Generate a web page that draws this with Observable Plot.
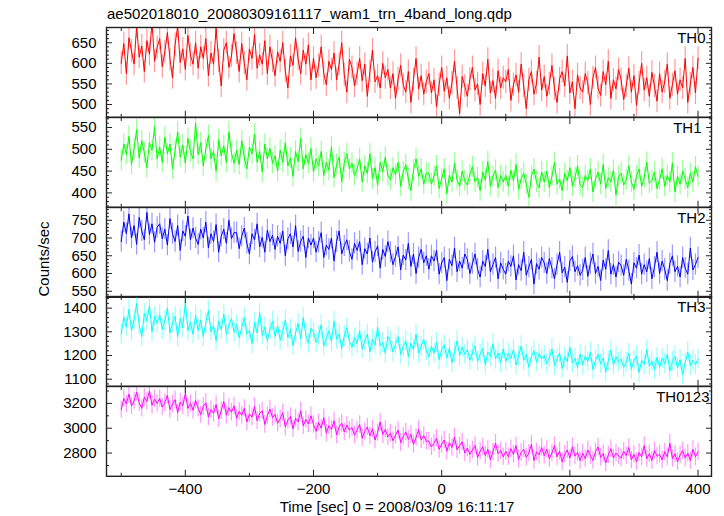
<!DOCTYPE html>
<html><head><meta charset="utf-8">
<script src="https://cdn.jsdelivr.net/npm/d3@7"></script>
<script src="https://cdn.jsdelivr.net/npm/@observablehq/plot@0.6"></script>
<style>
body{margin:0;background:#fff;}
#c{position:relative;width:724px;height:516px;overflow:hidden;font-family:"Liberation Sans",Arial,Helvetica,sans-serif;color:#000;}
.lbl{position:absolute;white-space:nowrap;font-size:15px;line-height:18px;}
</style>
</head><body><div id="c"></div>
<script>
// ---- data (count rates, 4-s samples from t = -500 s to +400 s) ----
const tStart = -500, tStep = 4;
const panelNames = ["TH0", "TH1", "TH2", "TH3", "TH0123"];
const th0 = [
600,648,575,662,630,598,690,615,642,580,655,622,700,605,638,
660,592,628,675,610,565,645,690,602,635,585,668,620,598,650,
588,640,612,660,570,625,598,685,606,545,632,650,590,618,672,
625,580,648,600,560,635,612,670,588,620,598,655,575,640,605,
570,628,605,650,582,540,618,595,662,610,575,632,598,645,560,
612,565,595,640,575,548,605,585,625,560,598,650,572,530,610,
590,545,575,612,558,598,520,580,632,555,570,540,600,565,585,
540,575,515,562,595,548,530,580,505,560,612,538,570,525,555,
575,528,560,495,548,590,532,565,515,552,605,540,478,568,545,
520,562,590,535,550,500,575,545,610,528,558,515,582,540,565,
555,585,510,548,572,530,598,545,490,560,580,525,552,615,535,
568,520,550,595,538,505,562,580,545,618,528,555,490,572,540,
530,575,552,500,565,590,540,522,580,548,605,515,560,538,585,
560,512,545,588,530,570,498,552,600,535,565,520,578,545,508,
575,530,555,598,515,548,582,525,560,540,612,505,550,590,528,
612];
const th1 = [
475,512,488,530,465,502,545,480,520,492,458,515,498,552,478,
505,470,528,490,512,455,498,540,482,510,468,525,495,478,560,
488,515,462,500,532,478,495,450,522,485,508,470,540,492,468,
498,465,520,482,455,505,490,535,470,495,448,512,478,502,468,
485,450,498,470,515,462,480,438,495,472,525,455,488,468,502,
448,478,462,495,440,470,452,505,435,465,482,425,470,490,455,
468,440,455,478,425,462,445,490,432,458,418,470,448,482,440,
430,458,442,470,415,448,465,432,405,452,478,438,455,420,445,
445,420,438,462,410,432,455,398,440,425,468,430,415,450,428,
418,442,460,425,435,405,448,430,472,415,438,452,412,440,425,
440,415,452,428,465,408,432,445,420,390,438,455,425,412,448,
425,450,412,438,470,420,432,405,445,428,458,415,435,462,418,
412,440,428,455,402,432,448,420,465,410,435,425,452,395,438,
445,418,430,462,425,408,440,455,415,435,470,422,428,448,410,
430,455,415,440,425,468,402,438,420,450,432,412,445,425,460,
438];
const th2 = [
690,745,712,768,700,735,682,758,720,695,772,710,740,688,730,
740,698,725,680,755,712,690,735,665,720,705,762,695,728,700,
682,725,700,745,672,712,690,738,660,705,725,685,750,698,715,
715,670,705,728,685,655,712,695,740,675,702,660,722,690,708,
668,705,685,720,650,698,712,675,735,662,690,705,645,700,680,
700,660,688,715,645,680,668,700,635,690,720,655,678,695,662,
640,685,665,690,625,670,655,700,632,660,678,615,668,648,690,
660,625,648,675,610,652,638,685,620,655,600,645,668,630,650,
612,650,635,665,598,630,645,580,640,622,672,605,635,615,655,
640,600,628,655,612,590,635,620,668,605,625,645,585,630,612,
598,635,620,650,582,625,608,660,595,618,640,570,628,612,645,
630,600,642,615,585,625,660,602,618,575,635,648,605,622,595,
610,645,592,628,655,600,620,580,638,612,665,598,625,590,632,
622,595,640,608,570,630,615,652,598,625,605,642,585,618,660,
600,635,612,580,628,650,605,620,590,645,615,598,672,610,625,
645];
const th3 = [
1290,1362,1320,1395,1305,1350,1420,1328,1280,1378,1345,1410,1300,1365,1335,
1372,1310,1345,1400,1295,1338,1365,1280,1355,1318,1425,1305,1340,1290,1370,
1305,1350,1280,1338,1390,1300,1325,1262,1345,1310,1375,1290,1330,1355,1298,
1330,1275,1318,1360,1290,1305,1250,1340,1295,1380,1285,1320,1262,1310,1345,
1280,1325,1265,1300,1350,1275,1310,1242,1295,1335,1270,1360,1288,1252,1315,
1300,1255,1285,1330,1240,1275,1305,1258,1345,1268,1290,1230,1282,1318,1260,
1235,1275,1250,1305,1228,1262,1290,1215,1268,1245,1320,1240,1255,1210,1280,
1260,1215,1248,1280,1205,1238,1262,1195,1252,1225,1290,1210,1240,1268,1220,
1195,1238,1210,1255,1182,1225,1245,1190,1230,1170,1215,1262,1200,1235,1205,
1225,1180,1212,1240,1175,1205,1230,1160,1215,1195,1250,1185,1210,1170,1228,
1175,1210,1188,1225,1160,1198,1240,1180,1205,1150,1195,1220,1172,1208,1185,
1200,1165,1190,1228,1158,1185,1210,1145,1195,1175,1235,1168,1188,1150,1205,
1160,1198,1175,1215,1140,1180,1205,1165,1190,1130,1178,1222,1160,1195,1172,
1185,1150,1172,1210,1142,1178,1198,1128,1180,1162,1225,1155,1175,1140,1192,
1150,1188,1165,1205,1135,1175,1195,1148,1182,1120,1170,1215,1158,1180,1162,
1185];
const th0123 = [
3150,3240,3195,3275,3180,3220,3290,3205,3160,3250,3215,3300,3185,3235,3200,
3240,3170,3205,3265,3150,3195,3230,3125,3210,3180,3280,3160,3200,3145,3225,
3160,3110,3175,3205,3090,3150,3120,3190,3075,3140,3215,3105,3165,3130,3180,
3080,3135,3105,3160,3050,3115,3090,3175,3060,3120,3140,3030,3100,3155,3085,
3110,3040,3075,3125,3010,3065,3095,2995,3080,3050,3140,3020,3070,3035,3100,
3030,2975,3045,3000,3085,2960,3020,2990,3060,2945,3010,3040,2970,3025,2985,
3005,2945,2985,3030,2920,2975,3010,2940,2995,2905,2965,3050,2950,2990,2930,
2960,2900,2945,2985,2885,2935,2970,2910,2950,2870,2925,2990,2905,2940,2895,
2895,2850,2880,2920,2830,2870,2905,2815,2885,2845,2930,2825,2860,2890,2800,
2840,2790,2825,2860,2765,2815,2850,2780,2830,2745,2810,2880,2795,2820,2770,
2815,2770,2835,2790,2860,2750,2805,2830,2765,2800,2870,2740,2810,2785,2845,
2780,2830,2755,2800,2860,2770,2815,2730,2790,2825,2760,2850,2775,2805,2740,
2800,2755,2825,2780,2740,2810,2850,2765,2795,2720,2785,2835,2760,2800,2775,
2760,2815,2780,2845,2745,2790,2730,2805,2770,2860,2755,2795,2740,2820,2775,
2790,2745,2810,2770,2880,2755,2795,2730,2785,2820,2760,2800,2740,2830,2770,
2810];
// statistical error per sample (counts/sec)
const errors = [28, 24, 30, 42, 70];
// tick labels
const xTickLabels = [-400, -200, 0, 200, 400];
const yTickLabels = [
  [500, 550, 600, 650],
  [400, 450, 500, 550],
  [550, 600, 650, 700, 750],
  [1100, 1200, 1300, 1400],
  [2800, 3000, 3200]
];
const titleText = "ae502018010_20080309161117_wam1_trn_4band_long.qdp";
const xLabelText = "Time [sec] 0 = 2008/03/09 16:11:17";
const yLabelText = "Counts/sec";

// ---- presentation ----
const seriesValues = [th0, th1, th2, th3, th0123];
const colors = ["#ff0000", "#00ff00", "#0000ff", "#00ffff", "#ff00ff"];
const yDomains = [[469, 687], [367, 573], [533, 786], [1070, 1449], [2613, 3336]];
const yMinorSteps = [10, 10, 10, 20, 100];
const nameDx = [-6, -10, -6, -6, -2];
const xDomain = [-523, 421];
const xMinor = [-500, -300, -100, 100, 300];
const W = 724, ML = 106, MR = 13, top0 = 27, ph = 89.8, pad = 4;
const font = '"Liberation Sans", Arial, Helvetica, sans-serif';
const ink = "#222";
const container = document.getElementById("c");

seriesValues.forEach((values, i) => {
  const last = i === seriesValues.length - 1;
  const err = errors[i];
  const data = values.map((v, k) => ({t: tStart + k * tStep, v, lo: v - err, hi: v + err}));
  const dom = yDomains[i], step = yMinorSteps[i];
  const yMinor = d3.range(Math.ceil(dom[0] / step) * step, dom[1], step).filter(v => !yTickLabels[i].includes(v));
  const mb = last ? 42 : pad;
  const tickOnly = {fill: "none", label: null, tickFormat: () => "", stroke: ink};
  const marks = [
    Plot.ruleX(data, {x: "t", y1: "lo", y2: "hi", stroke: colors[i], strokeOpacity: 0.4, strokeWidth: 1.2, clip: true}),
    Plot.line(data, {x: "t", y: "v", stroke: colors[i], strokeWidth: 1, clip: true}),
    ...["left", "right"].flatMap(a => [
      Plot.axisY({...tickOnly, anchor: a, ticks: yTickLabels[i], tickSize: -6}),
      Plot.axisY({...tickOnly, anchor: a, ticks: yMinor, tickSize: -3})
    ]),
    ...["top", "bottom"].flatMap(a => [
      Plot.axisX({...tickOnly, anchor: a, ticks: xTickLabels, tickSize: -6}),
      Plot.axisX({...tickOnly, anchor: a, ticks: xMinor, tickSize: -3})
    ]),
    Plot.frame({stroke: ink, strokeWidth: 1.4}),
    Plot.axisY({anchor: "left", ticks: yTickLabels[i], tickSize: 0, tickPadding: 10, label: null, fontSize: 15, fill: "#000", tickFormat: d => String(d)}),
    Plot.text([panelNames[i]], {text: d => d, frameAnchor: "top-right", textAnchor: "end", lineAnchor: "top", dx: nameDx[i], dy: 5, fontSize: 15, fill: "#000"})
  ];
  if (last) marks.push(Plot.axisX({anchor: "bottom", ticks: xTickLabels, tickSize: 0, tickPadding: 7, label: null, fontSize: 15, fill: "#000"}));
  const svg = Plot.plot({
    width: W, height: ph + pad + mb,
    marginLeft: ML, marginRight: MR, marginTop: pad, marginBottom: mb,
    x: {domain: xDomain, label: null},
    y: {domain: dom, label: null},
    style: {fontFamily: font, fontSize: "15px", background: "transparent", overflow: "visible"},
    marks
  });
  svg.style.position = "absolute";
  svg.style.left = "0px";
  svg.style.top = (top0 + i * ph - pad) + "px";
  container.appendChild(svg);
});

function addLabel(text, css) {
  const d = document.createElement("div");
  d.className = "lbl";
  d.textContent = text;
  Object.assign(d.style, css);
  container.appendChild(d);
}
addLabel(titleText, {left: "107px", top: "5px"});
addLabel(xLabelText, {left: "397px", top: "498px", transform: "translateX(-50%)"});
addLabel(yLabelText, {left: "42.5px", top: "259px", lineHeight: "15px", transform: "translate(-50%,-50%) rotate(-90deg)"});
</script>
</body></html>
